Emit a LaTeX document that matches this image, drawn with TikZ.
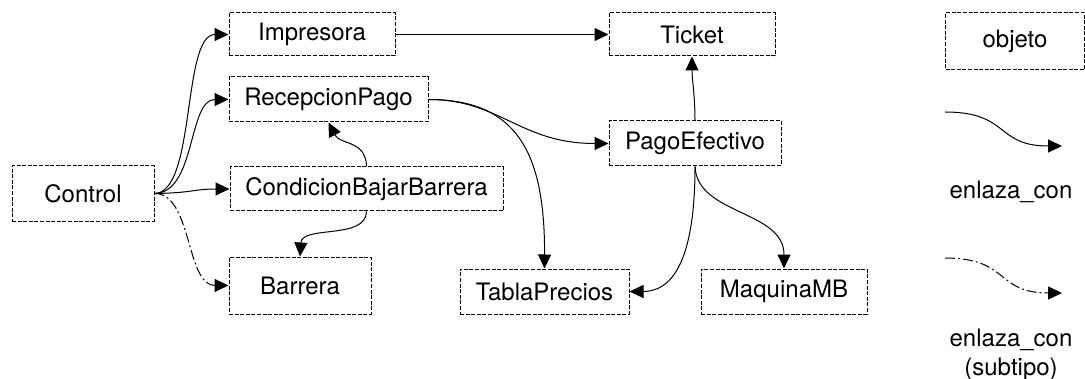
\documentclass[tikz,border=0pt]{standalone}
\usepackage{fontspec}
\setmainfont{TeX Gyre Heros}
\usetikzlibrary{arrows.meta}
\begin{document}
\begin{tikzpicture}[x=0.5pt,y=-0.5pt,
  obj/.style={draw,line width=0.5pt,dash pattern=on 2pt off 0.8pt,inner sep=0pt,
    font=\fontsize{12}{14}\selectfont},
  link/.style={line width=0.5pt,-{Triangle[length=7pt,width=6.5pt]}},
  sublink/.style={link,dash pattern=on 5pt off 1.5pt on 1pt off 1.5pt},
  lbl/.style={font=\fontsize{12}{14.5}\selectfont,align=center,inner sep=0pt}]
\useasboundingbox (0,0) rectangle (1085,379);
% nodes
\node[obj,minimum width=83pt,minimum height=21.5pt] (imp) at (312,34.5) {Impresora};
\node[obj,minimum width=99.5pt,minimum height=22.5pt] (rec) at (328.5,99.5) {RecepcionPago};
\node[obj,minimum width=71pt,minimum height=27.5pt] (ctl) at (83,193.5) {Control};
\node[obj,minimum width=136.5pt,minimum height=22pt] (cond) at (366.5,189) {CondicionBajarBarrera};
\node[obj,minimum width=71pt,minimum height=28.5pt] (bar) at (300,285.5) {Barrera};
\node[obj,minimum width=83pt,minimum height=21.5pt] (tic) at (692,34.5) {Ticket};
\node[obj,minimum width=86pt,minimum height=22.5pt] (pago) at (695,143.5) {PagoEfectivo};
\node[obj,minimum width=84.5pt,minimum height=22.5pt] (tab) at (544.5,291.5) {TablaPrecios};
\node[obj,minimum width=83pt,minimum height=22.5pt] (maq) at (784,291.5) {MaquinaMB};
% legend
\node[obj,minimum width=69.5pt,minimum height=28.5pt] (objeto) at (1015,41.5) {objeto};
\coordinate (la) at (945,112);
\coordinate (lb) at (1062,146);
\coordinate (lc) at (945,258);
\coordinate (ld) at (1062,293);
\node[lbl] (t1) at (1011,192) {enlaza\_con};
\node[lbl] (t2) at (1011,355) {enlaza\_con\\(subtipo)};
% connectors
\draw[link] (ctl.east) .. controls (196,193) and (182,34.5) .. (imp.west);
\draw[link] (ctl.east) .. controls (196,193) and (188,99.5) .. (rec.west);
\draw[link] (ctl.east) .. controls (192,193) and (194,189) .. (cond.west);
\draw[sublink] (ctl.east) .. controls (192,193) and (186,285.5) .. (bar.west);
\draw[link] (imp.east) -- (tic.west);
\draw[link] (rec.east) .. controls (500,99.5) and (520,143.5) .. (pago.west);
\draw[link] (rec.east) .. controls (515,99.5) and (545,150) .. (tab.north);
\draw[link] (cond.north) .. controls (366,140) and (340,145) .. (rec.south);
\draw[link] (cond.south) .. controls (366,240) and (302,225) .. (bar.north);
\draw[link] (pago.north) .. controls (695,95) and (692,80) .. (tic.south);
\draw[link] (pago.south) .. controls (695,265) and (670,291.5) .. (tab.east);
\draw[link] (pago.south) .. controls (697,215) and (784,210) .. (maq.north);
\draw[link] (la) .. controls (1010,112) and (995,146) .. (lb);
\draw[sublink] (lc) .. controls (1010,258) and (995,293) .. (ld);
\end{tikzpicture}
\end{document}
